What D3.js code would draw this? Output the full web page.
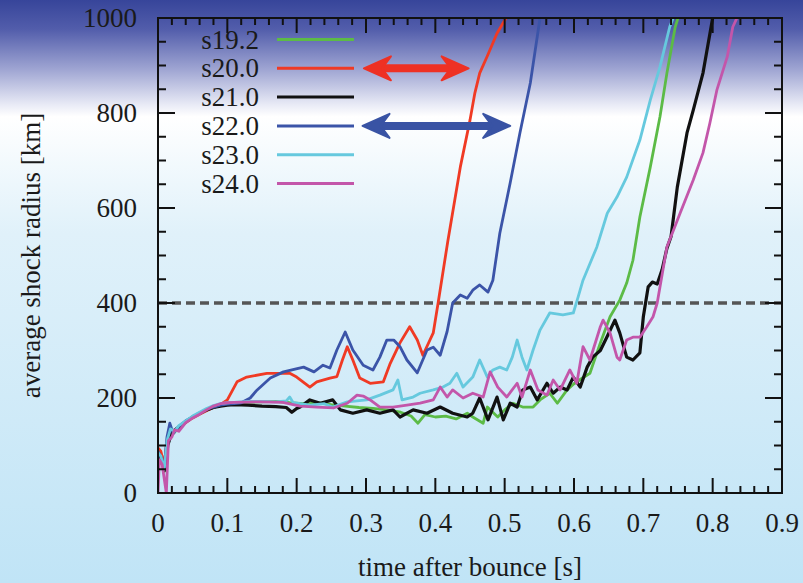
<!DOCTYPE html>
<html>
<head>
<meta charset="utf-8">
<script src="https://cdn.jsdelivr.net/npm/d3@7"></script>
<style>
  body { margin: 0; }
  svg { display: block; }
</style>
</head>
<body>
<script>
// shock radius vs time after bounce, one array of [t, r] per progenitor

const names = ["s19.2", "s20.0", "s21.0", "s22.0", "s23.0", "s24.0"];
const colors = ["#5cbb46", "#f03a24", "#111111", "#3b54a8", "#66c9de", "#c356aa"];

const s192 = [[0,85],[0.004,75],[0.009,45],[0.013,105],[0.018,130],[0.024,128],[0.03,140],[0.04,150],[0.05,160],[0.06,168],[0.07,175],[0.08,180],[0.09,184],[0.10,187],
  [0.11,189],[0.13,191],[0.15,192],[0.17,193],[0.19,190],[0.21,188],[0.23,190],[0.25,186],[0.27,183],[0.29,180],[0.31,178],[0.33,175],[0.35,170],[0.365,162],[0.375,147],[0.385,165],[0.40,160],[0.415,162],[0.43,156],[0.446,168],[0.454,160],[0.469,147],[0.475,181],[0.49,160],[0.50,175],[0.512,189],[0.526,181],[0.541,181],[0.551,196],[0.565,210],[0.576,189],[0.59,217],[0.60,230],[0.61,240],[0.623,252],[0.638,316],[0.652,371],[0.666,406],[0.676,442],[0.685,490],[0.695,581],[0.71,686],[0.724,792],[0.734,884],[0.746,981],[0.75,1000]];

const s200 = [[0,95],[0.004,88],[0.009,60],[0.013,110],[0.018,132],[0.024,130],[0.03,138],[0.04,148],[0.05,158],[0.06,166],[0.07,173],[0.08,180],[0.09,186],[0.10,196],
  [0.114,234],[0.128,244],[0.157,252],[0.19,252],[0.20,244],[0.219,223],[0.229,234],[0.248,242],[0.258,245],[0.266,280],[0.273,308],[0.281,280],[0.291,242],[0.306,231],[0.325,234],[0.335,273],[0.349,316],[0.363,350],[0.374,322],[0.382,290],[0.397,337],[0.404,400],[0.418,530],[0.436,686],[0.45,785],[0.457,842],[0.464,884],[0.475,920],[0.489,968],[0.502,1000]];

const s210 = [[0,80],[0.004,70],[0.01,48],[0.014,100],[0.02,128],[0.026,135],[0.032,140],[0.04,150],[0.05,160],[0.06,168],[0.07,175],[0.08,180],[0.09,183],[0.10,185],
  [0.11,186],[0.13,185],[0.15,183],[0.17,182],[0.185,180],[0.193,170],[0.20,178],[0.205,181],[0.219,196],[0.234,189],[0.252,196],[0.263,175],[0.281,168],[0.301,175],[0.32,168],[0.339,175],[0.349,160],[0.368,175],[0.388,168],[0.407,181],[0.425,168],[0.446,160],[0.454,168],[0.464,200],[0.476,154],[0.489,202],[0.498,154],[0.508,189],[0.518,181],[0.526,217],[0.537,223],[0.547,196],[0.561,231],[0.570,210],[0.58,223],[0.59,217],[0.599,244],[0.609,223],[0.619,265],[0.627,286],[0.638,300],[0.648,330],[0.659,364],[0.666,337],[0.676,286],[0.685,280],[0.695,295],[0.70,371],[0.707,434],[0.713,444],[0.72,440],[0.727,470],[0.734,515],[0.74,540],[0.749,644],[0.763,758],[0.772,806],[0.786,884],[0.80,1000]];

const s220 = [[0,88],[0.004,76],[0.009,55],[0.013,118],[0.017,147],[0.022,125],[0.03,140],[0.04,152],[0.05,160],[0.06,168],[0.07,176],[0.08,181],[0.09,185],[0.10,187],[0.11,188],
  [0.12,190],[0.133,200],[0.143,217],[0.162,242],[0.181,255],[0.21,265],[0.225,255],[0.238,269],[0.248,263],[0.258,301],[0.27,339],[0.281,301],[0.296,269],[0.31,259],[0.32,286],[0.33,322],[0.34,322],[0.349,308],[0.359,280],[0.374,253],[0.388,301],[0.397,307],[0.407,290],[0.417,340],[0.425,400],[0.436,417],[0.446,410],[0.454,427],[0.464,438],[0.476,423],[0.483,448],[0.493,547],[0.508,653],[0.522,758],[0.537,863],[0.551,1000]];

const s230 = [[0,85],[0.004,78],[0.009,50],[0.013,110],[0.018,135],[0.024,130],[0.03,142],[0.04,152],[0.05,162],[0.06,170],[0.07,178],[0.08,184],[0.09,188],[0.10,190],
  [0.11,191],[0.13,193],[0.15,193],[0.17,192],[0.185,194],[0.19,202],[0.195,190],[0.205,188],[0.22,185],[0.24,188],[0.252,181],[0.273,192],[0.301,196],[0.32,206],[0.339,217],[0.346,238],[0.352,196],[0.368,202],[0.378,210],[0.397,217],[0.411,223],[0.421,231],[0.431,252],[0.44,223],[0.454,244],[0.464,280],[0.475,244],[0.483,259],[0.493,265],[0.503,259],[0.511,286],[0.518,322],[0.525,286],[0.532,259],[0.541,301],[0.551,343],[0.565,379],[0.584,375],[0.599,379],[0.606,413],[0.613,448],[0.633,518],[0.648,589],[0.662,623],[0.676,665],[0.695,743],[0.71,827],[0.724,897],[0.738,981],[0.743,1000]];

const s240 = [[0,0],[0.002,70],[0.006,60],[0.012,0],[0.015,110],[0.02,118],[0.024,133],[0.03,130],[0.04,148],[0.05,158],[0.06,166],[0.07,175],[0.08,183],[0.09,188],[0.10,190],
  [0.11,191],[0.147,192],[0.18,191],[0.205,183],[0.229,181],[0.253,179],[0.273,189],[0.287,206],[0.296,204],[0.306,196],[0.32,181],[0.339,181],[0.359,185],[0.378,189],[0.397,196],[0.407,223],[0.417,202],[0.425,217],[0.44,200],[0.454,210],[0.469,202],[0.479,255],[0.49,223],[0.503,202],[0.518,231],[0.525,202],[0.537,259],[0.548,217],[0.561,206],[0.57,238],[0.58,217],[0.594,259],[0.604,231],[0.613,308],[0.623,280],[0.638,350],[0.642,364],[0.652,337],[0.662,286],[0.666,280],[0.676,322],[0.685,328],[0.695,328],[0.705,350],[0.714,371],[0.72,400],[0.734,518],[0.753,589],[0.772,659],[0.786,716],[0.796,779],[0.806,848],[0.821,918],[0.829,981],[0.835,1000]];

const series = [s192, s200, s210, s220, s230, s240];

const xTicks = [0, 0.1, 0.2, 0.3, 0.4, 0.5, 0.6, 0.7, 0.8, 0.9];
const yTicks = [0, 200, 400, 600, 800, 1000];
const threshold = 400;

// arrows: which legend row, and the time span they cover
const arrowRows = [1, 3];
const arrowColors = ["#ee3124", "#3953a4"];
const arrowEnds = [[0.297, 0.448], [0.295, 0.508]];

const width = 803, height = 583;
const margin = { top: 18, right: 21, bottom: 90, left: 158 };

const x = d3.scaleLinear().domain([0, 0.9]).range([margin.left, width - margin.right]);
const y = d3.scaleLinear().domain([0, 1000]).range([height - margin.bottom, margin.top]);

const svg = d3.select("body").append("svg")
  .attr("width", width)
  .attr("height", height)
  .attr("font-family", "'Liberation Serif', 'Times New Roman', serif");

// background gradient navy -> white -> light blue
const grad = svg.append("defs").append("linearGradient")
  .attr("id", "bg").attr("x1", 0).attr("y1", 0).attr("x2", 0).attr("y2", 1);
[[0, "#37459a"], [0.05, "#525dab"], [0.12, "#a0a6d3"], [0.18, "#e9ebf6"], [0.2, "#ffffff"], [0.4, "#e0f1fa"], [1, "#c0e4f6"]]
  .forEach(s => grad.append("stop").attr("offset", s[0]).attr("stop-color", s[1]));

svg.append("rect").attr("width", width).attr("height", height).attr("fill", "url(#bg)");

svg.select("defs").append("clipPath").attr("id", "clip")
  .append("rect")
  .attr("x", x(0)).attr("y", y(1000))
  .attr("width", x(0.9) - x(0)).attr("height", y(0) - y(1000));

// threshold line
svg.append("line")
  .attr("x1", x(0)).attr("x2", x(0.9))
  .attr("y1", y(threshold)).attr("y2", y(threshold))
  .attr("stroke", "#555").attr("stroke-width", 3.5)
  .attr("stroke-dasharray", "9,5");

// curves
const line = d3.line().x(d => x(d[0])).y(d => y(d[1]));
svg.append("g").attr("clip-path", "url(#clip)")
  .selectAll("path")
  .data(series)
  .join("path")
  .attr("d", line)
  .attr("fill", "none")
  .attr("stroke", (d, i) => colors[i])
  .attr("stroke-width", (d, i) => i == 2 ? 3.2 : 2.8)
  .attr("stroke-linejoin", "round");

// frame + ticks on all four sides
const majorLen = 15, minorLen = 7;
const frame = svg.append("g").attr("stroke", "#111").attr("stroke-width", 2);
frame.append("rect")
  .attr("x", x(0)).attr("y", y(1000))
  .attr("width", x(0.9) - x(0)).attr("height", y(0) - y(1000))
  .attr("fill", "none");

const xMinor = d3.range(0, 0.9001, 0.02);
const yMinor = d3.range(0, 1000.01, 50);

frame.selectAll(".xt").data(xMinor).join("g").each(function (t) {
  const major = xTicks.some(v => Math.abs(v - t) < 1e-6);
  const len = major ? majorLen : minorLen;
  const g = d3.select(this);
  g.append("line").attr("x1", x(t)).attr("x2", x(t)).attr("y1", y(0)).attr("y2", y(0) - len);
  g.append("line").attr("x1", x(t)).attr("x2", x(t)).attr("y1", y(1000)).attr("y2", y(1000) + len);
});
frame.selectAll(".yt").data(yMinor).join("g").each(function (v) {
  const major = yTicks.includes(v);
  const len = major ? majorLen + 2 : minorLen + 1;
  const g = d3.select(this);
  g.append("line").attr("x1", x(0)).attr("x2", x(0) + len).attr("y1", y(v)).attr("y2", y(v));
  g.append("line").attr("x1", x(0.9)).attr("x2", x(0.9) - len).attr("y1", y(v)).attr("y2", y(v));
});

// tick labels
const ink = "#1a1a1a";
svg.append("g").selectAll("text").data(xTicks).join("text")
  .attr("x", d => x(d)).attr("y", y(0) + 39)
  .attr("text-anchor", "middle").attr("font-size", 27).attr("fill", ink)
  .text(d => d);

svg.append("g").selectAll("text").data(yTicks).join("text")
  .attr("x", x(0) - 21).attr("y", d => y(d) + 9)
  .attr("text-anchor", "end").attr("font-size", 27).attr("fill", ink)
  .text(d => d);

// axis titles
svg.append("text")
  .attr("x", (x(0) + x(0.9)) / 2).attr("y", 576)
  .attr("text-anchor", "middle").attr("font-size", 27).attr("fill", ink)
  .text("time after bounce [s]");

svg.append("text")
  .attr("transform", `translate(40,${(y(0) + y(1000)) / 2}) rotate(-90)`)
  .attr("text-anchor", "middle").attr("font-size", 27).attr("fill", ink)
  .text("average shock radius [km]");

// legend
const legY = i => 39.5 + i * 28.8;
const leg = svg.append("g");
names.forEach((n, i) => {
  leg.append("text").attr("x", 259).attr("y", legY(i) + 9)
    .attr("text-anchor", "end").attr("font-size", 27).attr("fill", ink).text(n);
  leg.append("line").attr("x1", 277).attr("x2", 354)
    .attr("y1", legY(i)).attr("y2", legY(i))
    .attr("stroke", colors[i]).attr("stroke-width", 3);
});

// double-headed arrows
function arrowHead(tipX, yy, dir) {
  const L = 27, H = 12, notch = 9;
  return `M${tipX},${yy} L${tipX - dir * L},${yy - H} L${tipX - dir * (L - notch)},${yy} L${tipX - dir * L},${yy + H} Z`;
}
arrowRows.forEach((row, k) => {
  const yy = legY(row);
  const x0 = x(arrowEnds[k][0]), x1 = x(arrowEnds[k][1]);
  const g = svg.append("g").attr("fill", arrowColors[k]).attr("stroke", arrowColors[k]);
  g.append("line").attr("x1", x0 + 10).attr("x2", x1 - 10).attr("y1", yy).attr("y2", yy)
    .attr("stroke-width", 8);
  g.append("path").attr("d", arrowHead(x1, yy, 1)).attr("stroke-width", 2).attr("stroke-linejoin", "round");
  g.append("path").attr("d", arrowHead(x0, yy, -1)).attr("stroke-width", 2).attr("stroke-linejoin", "round");
});
</script>
</body>
</html>
